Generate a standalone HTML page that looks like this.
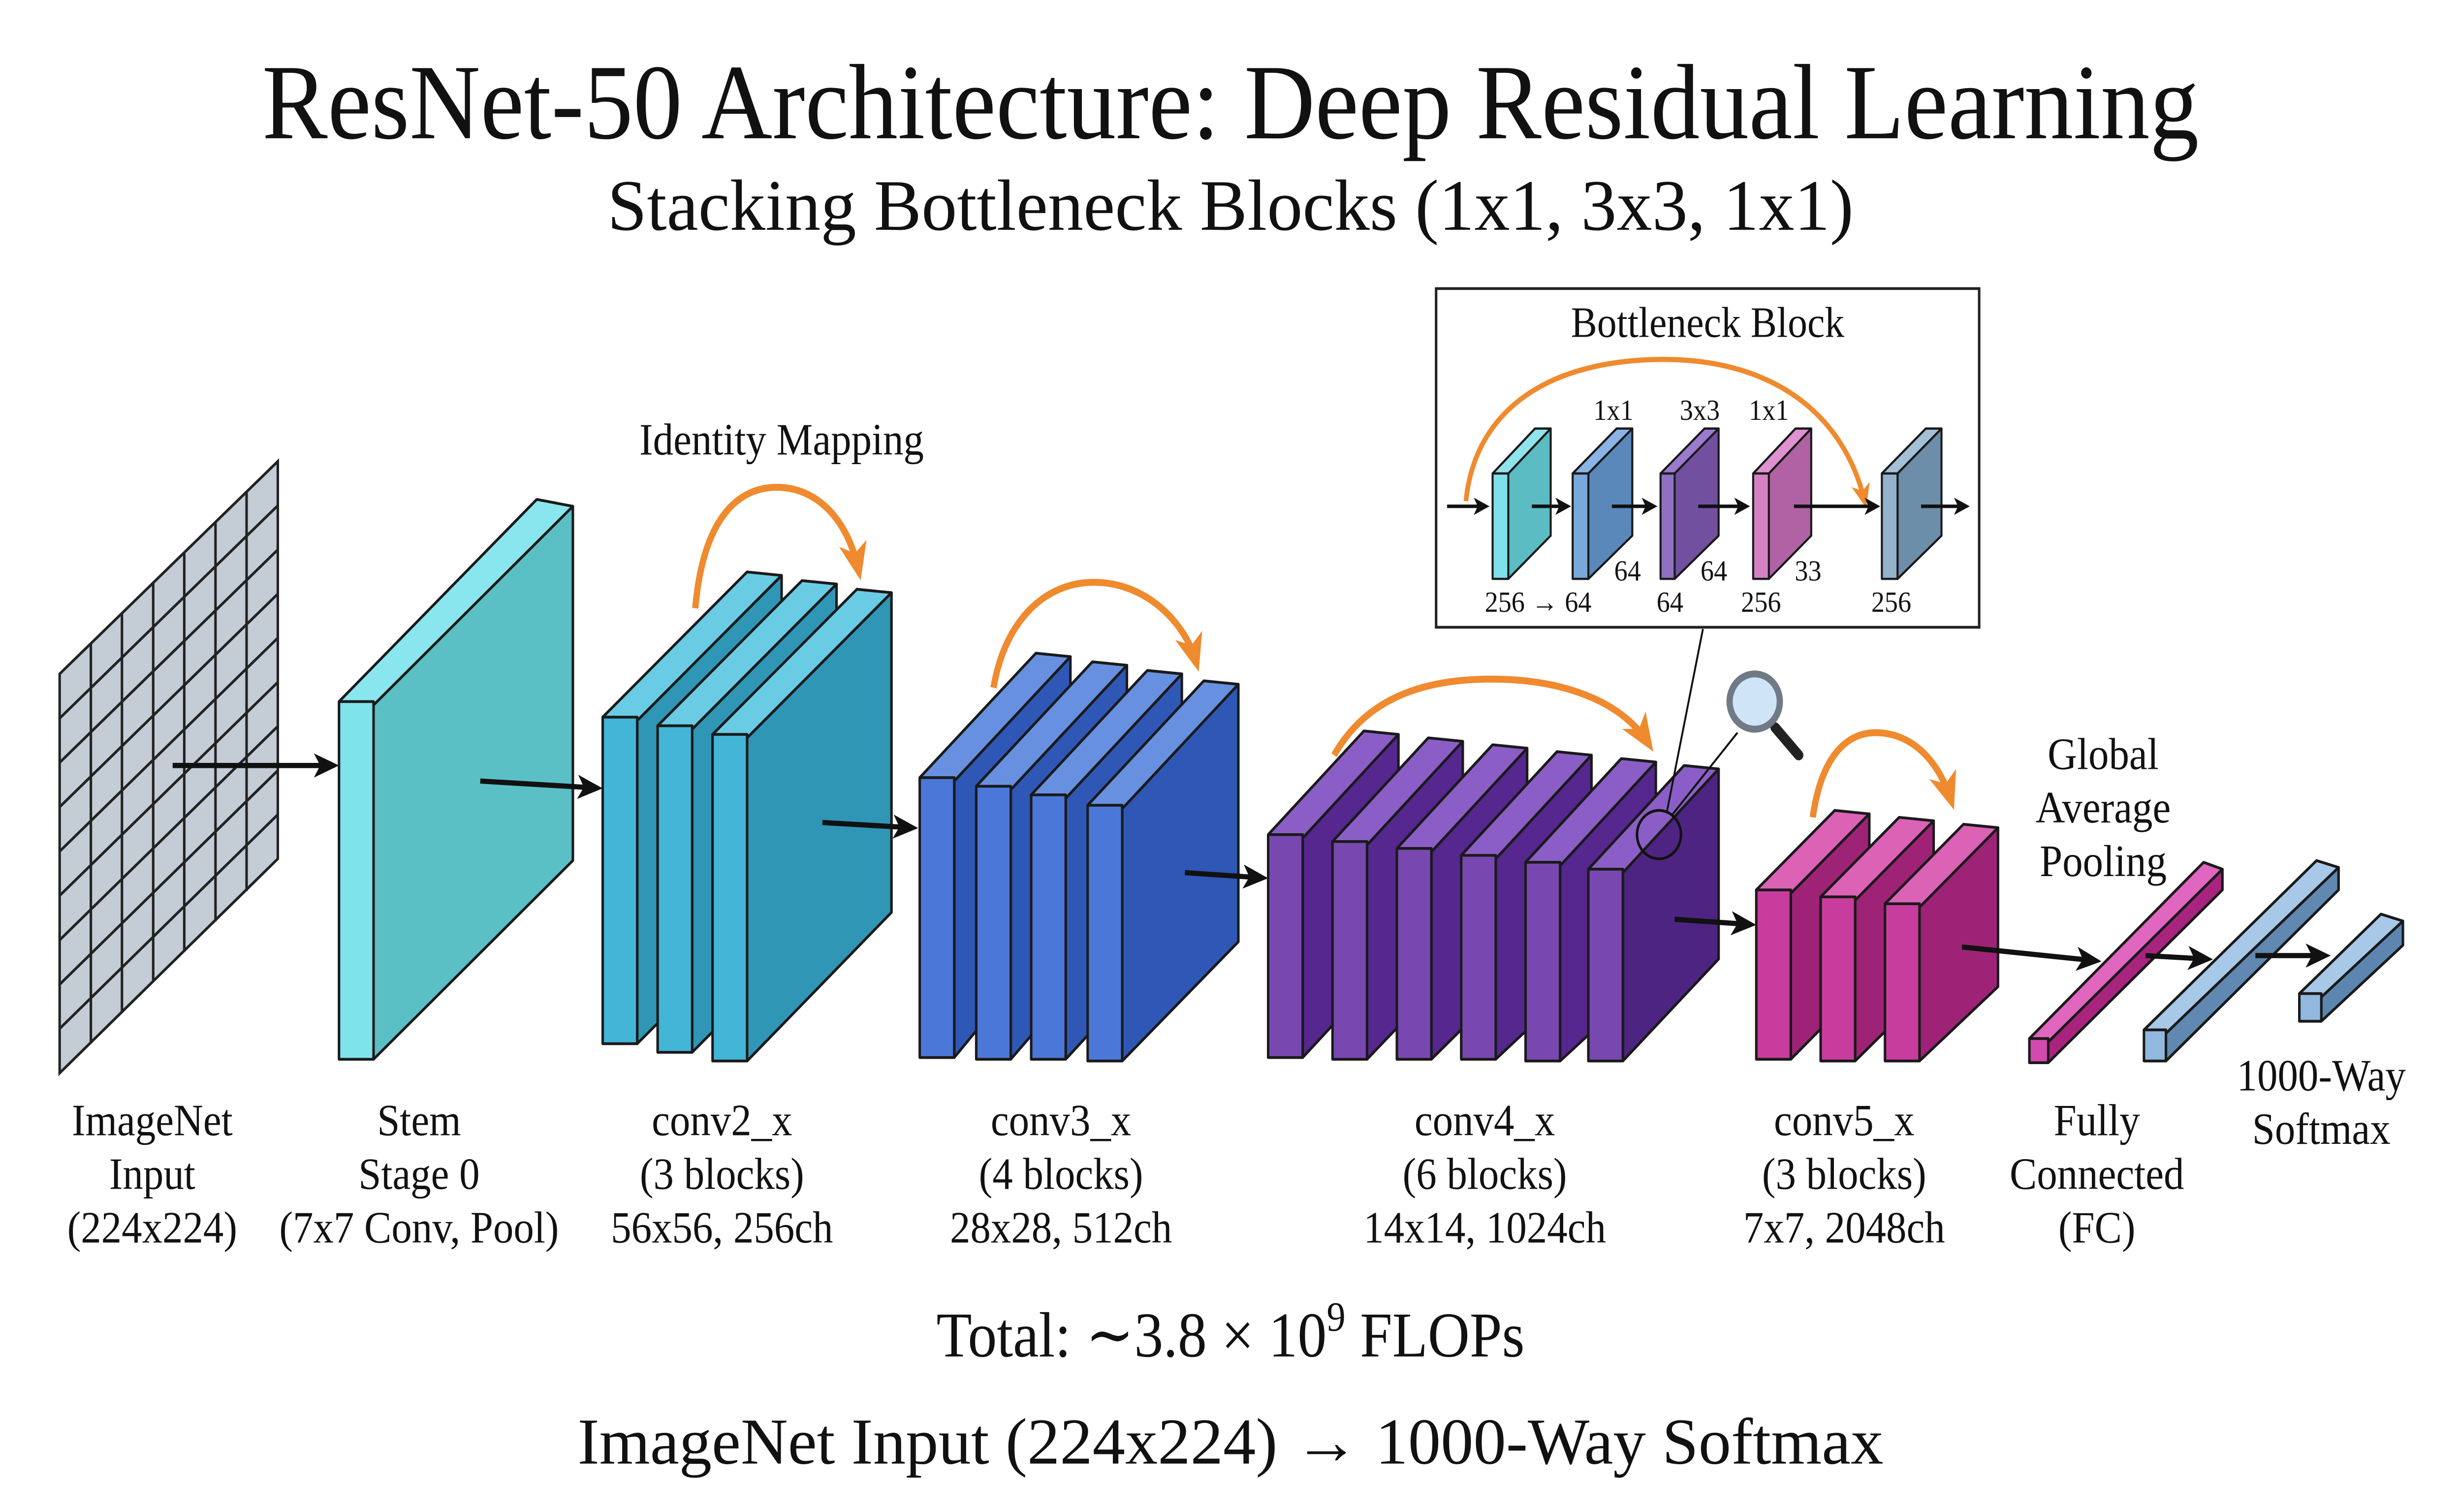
<!DOCTYPE html>
<html><head><meta charset="utf-8"><style>
html,body{margin:0;padding:0;background:#fff;width:100%;height:100%;overflow:hidden;}
svg{display:block;position:absolute;left:0;top:0;width:100vw;height:100vh;}
text{font-family:"Liberation Serif","DejaVu Serif",serif;fill:#111;}
</style></head><body>
<svg viewBox="0 0 1568 875" preserveAspectRatio="none" xmlns="http://www.w3.org/2000/svg">
<defs>
<marker id="ah" markerWidth="10" markerHeight="10" refX="7" refY="5" orient="auto" markerUnits="userSpaceOnUse" viewBox="0 0 10 10"><path d="M0,0 L10,5 L0,10 L2.5,5 Z" fill="#111"/></marker>
<marker id="ahb" markerWidth="16" markerHeight="16" refX="12" refY="8" orient="auto" markerUnits="userSpaceOnUse" viewBox="0 0 16 16"><path d="M0,1 L16,8 L0,15 L4,8 Z" fill="#111"/></marker>
<marker id="oa" markerWidth="22" markerHeight="22" refX="16" refY="11" orient="auto" markerUnits="userSpaceOnUse" viewBox="0 0 22 22"><path d="M0,2 L22,11 L0,20 L6,11 Z" fill="#ef8a2e"/></marker>
<marker id="oas" markerWidth="14" markerHeight="14" refX="10" refY="7" orient="auto" markerUnits="userSpaceOnUse" viewBox="0 0 14 14"><path d="M0,1 L14,7 L0,13 L4,7 Z" fill="#ef8a2e"/></marker>
</defs>
<rect width="1568" height="875" fill="#fff"/>

<text x="784" y="80" font-size="62" text-anchor="middle" textLength="1234" lengthAdjust="spacingAndGlyphs">ResNet-50 Architecture: Deep Residual Learning</text>
<text x="784" y="133" font-size="42" text-anchor="middle" textLength="794" lengthAdjust="spacingAndGlyphs">Stacking Bottleneck Blocks (1x1, 3x3, 1x1)</text>

<g stroke="#222" stroke-width="1.6" fill="none">
<polygon points="38,390 177,267 177,497 38,621" fill="#c4ccd6"/>
<line x1="57.9" y1="372.4" x2="57.9" y2="603.4"/><line x1="77.7" y1="354.9" x2="77.7" y2="585.9"/><line x1="97.6" y1="337.3" x2="97.6" y2="568.3"/><line x1="117.4" y1="319.7" x2="117.4" y2="550.7"/><line x1="137.3" y1="302.1" x2="137.3" y2="533.1"/><line x1="157.1" y1="284.6" x2="157.1" y2="515.6"/>
<line x1="38" y1="415.7" x2="177" y2="292.6"/><line x1="38" y1="441.3" x2="177" y2="318.1"/><line x1="38" y1="467" x2="177" y2="343.7"/><line x1="38" y1="492.7" x2="177" y2="369.2"/><line x1="38" y1="518.3" x2="177" y2="394.8"/><line x1="38" y1="544" x2="177" y2="420.3"/><line x1="38" y1="569.7" x2="177" y2="445.9"/><line x1="38" y1="595.3" x2="177" y2="471.4"/>
</g>
<line x1="110" y1="443" x2="212" y2="443" stroke="#111" stroke-width="3" marker-end="url(#ahb)"/>

<g stroke="#1a1a1a" stroke-width="1.6" stroke-linejoin="round">
<polygon points="238,408 365,293 365,498 238,613" fill="#5bc0c6"/>
<polygon points="216,406 342,289 365,293 238,408" fill="#8ae6ee"/>
<rect x="216" y="406" width="22" height="207" fill="#7fe3ec"/>
</g>
<line x1="306" y1="452" x2="380" y2="456" stroke="#111" stroke-width="3" marker-end="url(#ahb)"/>

<g stroke="#1a1a1a" stroke-width="1.6" stroke-linejoin="round">
<g><polygon points="406,417 498,333 498,520 406,604" fill="#2f96b6"/><polygon points="384,415 476,331 498,333 406,417" fill="#6acce4"/><rect x="384" y="415" width="22" height="189" fill="#43b5d7"/></g>
<g><polygon points="441,422 533,338 533,525 441,609" fill="#2f96b6"/><polygon points="419,420 511,336 533,338 441,422" fill="#6acce4"/><rect x="419" y="420" width="22" height="189" fill="#43b5d7"/></g>
<g><polygon points="476,427 568,343 568,528 476,614" fill="#2f96b6"/><polygon points="454,425 546,341 568,343 476,427" fill="#6acce4"/><rect x="454" y="425" width="22" height="189" fill="#43b5d7"/></g>
</g>
<path d="M443,352 C448,300 470,282 495,282 C520,282 540,300 547,330" fill="none" stroke="#ef8a2e" stroke-width="4" marker-end="url(#oa)"/>
<line x1="524" y1="476" x2="581" y2="479" stroke="#111" stroke-width="3" marker-end="url(#ahb)"/>

<g stroke="#1a1a1a" stroke-width="1.6" stroke-linejoin="round">
<g><polygon points="608,452 682,380 682,530 608,612" fill="#2f57b6"/><polygon points="586,450 660,378 682,380 608,452" fill="#6890e0"/><rect x="586" y="450" width="22" height="162" fill="#4b78d8"/></g>
<g><polygon points="644,457 718,385 718,535 644,613" fill="#2f57b6"/><polygon points="622,455 696,383 718,385 644,457" fill="#6890e0"/><rect x="622" y="455" width="22" height="158" fill="#4b78d8"/></g>
<g><polygon points="679,462 753,390 753,540 679,613" fill="#2f57b6"/><polygon points="657,460 731,388 753,390 679,462" fill="#6890e0"/><rect x="657" y="460" width="22" height="153" fill="#4b78d8"/></g>
<g><polygon points="715,468 789,396 789,545 715,614" fill="#2f57b6"/><polygon points="693,466 767,394 789,396 715,468" fill="#6890e0"/><rect x="693" y="466" width="22" height="148" fill="#4b78d8"/></g>
</g>
<path d="M633,398 C640,360 665,337 697,337 C730,337 755,360 762,383" fill="none" stroke="#ef8a2e" stroke-width="4" marker-end="url(#oa)"/>
<line x1="755" y1="505" x2="804" y2="508" stroke="#111" stroke-width="3" marker-end="url(#ahb)"/>

<g stroke="#1a1a1a" stroke-width="1.6" stroke-linejoin="round">
<g><polygon points="830,485 891,425 891,552 830,612" fill="#55278f"/><polygon points="808,483 869,423 891,425 830,485" fill="#8a5ec6"/><rect x="808" y="483" width="22" height="129" fill="#7848b0"/></g>
<g><polygon points="871,489 932,429 932,555 871,613" fill="#55278f"/><polygon points="849,487 910,427 932,429 871,489" fill="#8a5ec6"/><rect x="849" y="487" width="22" height="126" fill="#7848b0"/></g>
<g><polygon points="912,493 973,433 973,558 912,613" fill="#55278f"/><polygon points="890,491 951,431 973,433 912,493" fill="#8a5ec6"/><rect x="890" y="491" width="22" height="122" fill="#7848b0"/></g>
<g><polygon points="953,497 1014,437 1014,561 953,613" fill="#55278f"/><polygon points="931,495 992,435 1014,437 953,497" fill="#8a5ec6"/><rect x="931" y="495" width="22" height="118" fill="#7848b0"/></g>
<g><polygon points="994,501 1055,441 1055,563 994,614" fill="#55278f"/><polygon points="972,499 1033,439 1055,441 994,501" fill="#8a5ec6"/><rect x="972" y="499" width="22" height="115" fill="#7848b0"/></g>
<g><polygon points="1034,505 1095,445 1095,555 1034,614" fill="#4e2482"/><polygon points="1012,503 1073,443 1095,445 1034,505" fill="#8a5ec6"/><rect x="1012" y="503" width="22" height="111" fill="#7848b0"/></g>
</g>
<path d="M850,437 C870,405 905,393 950,393 C1000,393 1035,408 1050,430" fill="none" stroke="#ef8a2e" stroke-width="4" marker-end="url(#oa)"/>
<line x1="1067" y1="532" x2="1115" y2="535" stroke="#111" stroke-width="3" marker-end="url(#ahb)"/>
<circle cx="1057" cy="483" r="14" fill="none" stroke="#111" stroke-width="1.6"/>
<line x1="1085" y1="364" x2="1062" y2="470" stroke="#111" stroke-width="1.2"/>
<line x1="1065" y1="472" x2="1107" y2="424" stroke="#111" stroke-width="1.2"/>
<line x1="1131" y1="421" x2="1146" y2="437" stroke="#222" stroke-width="6" stroke-linecap="round"/>
<circle cx="1118" cy="406" r="16" fill="#cfe4f6" stroke="#6f7a86" stroke-width="4"/>

<g stroke="#1a1a1a" stroke-width="1.6" stroke-linejoin="round">
<g><polygon points="1141,517 1191,471 1191,567 1141,613" fill="#9e2376"/><polygon points="1119,515 1169,469 1191,471 1141,517" fill="#dc62b6"/><rect x="1119" y="515" width="22" height="98" fill="#c83c9e"/></g>
<g><polygon points="1182,521 1232,475 1232,569 1182,614" fill="#9e2376"/><polygon points="1160,519 1210,473 1232,475 1182,521" fill="#dc62b6"/><rect x="1160" y="519" width="22" height="95" fill="#c83c9e"/></g>
<g><polygon points="1223,525 1273,479 1273,571 1223,614" fill="#9e2376"/><polygon points="1201,523 1251,477 1273,479 1223,525" fill="#dc62b6"/><rect x="1201" y="523" width="22" height="91" fill="#c83c9e"/></g>
</g>
<path d="M1155,473 C1160,440 1175,424 1195,424 C1218,424 1235,440 1243,463" fill="none" stroke="#ef8a2e" stroke-width="4" marker-end="url(#oa)"/>
<line x1="1250" y1="548" x2="1335" y2="556" stroke="#111" stroke-width="3" marker-end="url(#ahb)"/>

<g stroke="#1a1a1a" stroke-width="1.6" stroke-linejoin="round">
<polygon points="1305,603 1416,503 1416,515 1305,615" fill="#a8247e"/>
<polygon points="1293,601 1404,499 1416,503 1305,603" fill="#e066c0"/>
<rect x="1293" y="601" width="12" height="14" fill="#d24aae"/>
<polygon points="1380,598 1490,502 1490,515 1380,614" fill="#6088b0"/>
<polygon points="1366,596 1476,498 1490,502 1380,598" fill="#a8c8e8"/>
<rect x="1366" y="596" width="14" height="18" fill="#92b8de"/>
<polygon points="1479,577 1531,533 1531,547 1479,591" fill="#5c86b0"/>
<polygon points="1465,575 1517,529 1531,533 1479,577" fill="#a8c8e8"/>
<rect x="1465" y="575" width="14" height="16" fill="#92b8de"/>
</g>
<line x1="1367" y1="553" x2="1406" y2="555" stroke="#111" stroke-width="3" marker-end="url(#ahb)"/>
<line x1="1437" y1="553" x2="1481" y2="553" stroke="#111" stroke-width="3" marker-end="url(#ahb)"/>

<rect x="915" y="167" width="346" height="196" fill="#fff" stroke="#222" stroke-width="1.6"/>
<text x="1088" y="195" font-size="25" text-anchor="middle">Bottleneck Block</text>
<g stroke="#1a1a1a" stroke-width="1.3" stroke-linejoin="round">
<g><polygon points="961,274 988,248 988,310 961,335" fill="#5cbcc4"/><polygon points="951,274 978,248 988,248 961,274" fill="#8fe4ec"/><rect x="951" y="274" width="10" height="61" fill="#80e0ea"/></g>
<g><polygon points="1012,274 1040,248 1040,310 1012,335" fill="#5a88bb"/><polygon points="1002,274 1030,248 1040,248 1012,274" fill="#8ab4e6"/><rect x="1002" y="274" width="10" height="61" fill="#7aa8dc"/></g>
<g><polygon points="1067,274 1095,248 1095,310 1067,335" fill="#7250a0"/><polygon points="1058,274 1086,248 1095,248 1067,274" fill="#9c7ad0"/><rect x="1058" y="274" width="9" height="61" fill="#9070c0"/></g>
<g><polygon points="1127,274 1154,248 1154,310 1127,335" fill="#b062a4"/><polygon points="1117,274 1144,248 1154,248 1127,274" fill="#e092d0"/><rect x="1117" y="274" width="10" height="61" fill="#d482c4"/></g>
<g><polygon points="1209,274 1237,248 1237,310 1209,335" fill="#6c8ea8"/><polygon points="1199,274 1227,248 1237,248 1209,274" fill="#a4c0d6"/><rect x="1199" y="274" width="10" height="61" fill="#94b2cc"/></g>
</g>
<path d="M934,290 C940,235 990,208 1060,208 C1130,208 1175,240 1188,290" fill="none" stroke="#ef8a2e" stroke-width="3" marker-end="url(#oas)"/>
<g stroke="#111" stroke-width="2">
<line x1="922" y1="293" x2="946" y2="293" marker-end="url(#ah)"/>
<line x1="976" y1="293" x2="998" y2="293" marker-end="url(#ah)"/>
<line x1="1027" y1="293" x2="1053" y2="293" marker-end="url(#ah)"/>
<line x1="1082" y1="293" x2="1112" y2="293" marker-end="url(#ah)"/>
<line x1="1143" y1="293" x2="1195" y2="293" marker-end="url(#ah)"/>
<line x1="1224" y1="293" x2="1252" y2="293" marker-end="url(#ah)"/>
</g>
<g font-size="17" text-anchor="middle">
<text x="1028" y="243">1x1</text><text x="1083" y="243">3x3</text><text x="1127" y="243">1x1</text>
<text x="1037" y="336">64</text><text x="1092" y="336">64</text><text x="1152" y="336">33</text>
<text x="980" y="354">256 → 64</text><text x="1064" y="354">64</text><text x="1122" y="354">256</text><text x="1205" y="354">256</text>
</g>

<text x="498" y="263" font-size="26" text-anchor="middle">Identity Mapping</text>
<g font-size="26" text-anchor="middle">
<text x="1340" y="445">Global</text><text x="1340" y="476">Average</text><text x="1340" y="507">Pooling</text>
<text x="97" y="657">ImageNet</text><text x="97" y="688">Input</text><text x="97" y="719">(224x224)</text>
<text x="267" y="657">Stem</text><text x="267" y="688">Stage 0</text><text x="267" y="719">(7x7 Conv, Pool)</text>
<text x="460" y="657">conv2_x</text><text x="460" y="688">(3 blocks)</text><text x="460" y="719">56x56, 256ch</text>
<text x="676" y="657">conv3_x</text><text x="676" y="688">(4 blocks)</text><text x="676" y="719">28x28, 512ch</text>
<text x="946" y="657">conv4_x</text><text x="946" y="688">(6 blocks)</text><text x="946" y="719">14x14, 1024ch</text>
<text x="1175" y="657">conv5_x</text><text x="1175" y="688">(3 blocks)</text><text x="1175" y="719">7x7, 2048ch</text>
<text x="1336" y="657">Fully</text><text x="1336" y="688">Connected</text><text x="1336" y="719">(FC)</text>
<text x="1479" y="631">1000-Way</text><text x="1479" y="662">Softmax</text>
</g>
<text x="784" y="785" font-size="37" text-anchor="middle">Total: ∼3.8 × 10<tspan font-size="24" dy="-15">9</tspan><tspan dy="15"> FLOPs</tspan></text>
<text x="784" y="847" font-size="38" text-anchor="middle" textLength="832" lengthAdjust="spacingAndGlyphs">ImageNet Input (224x224) → 1000-Way Softmax</text>
</svg>
</body></html>
